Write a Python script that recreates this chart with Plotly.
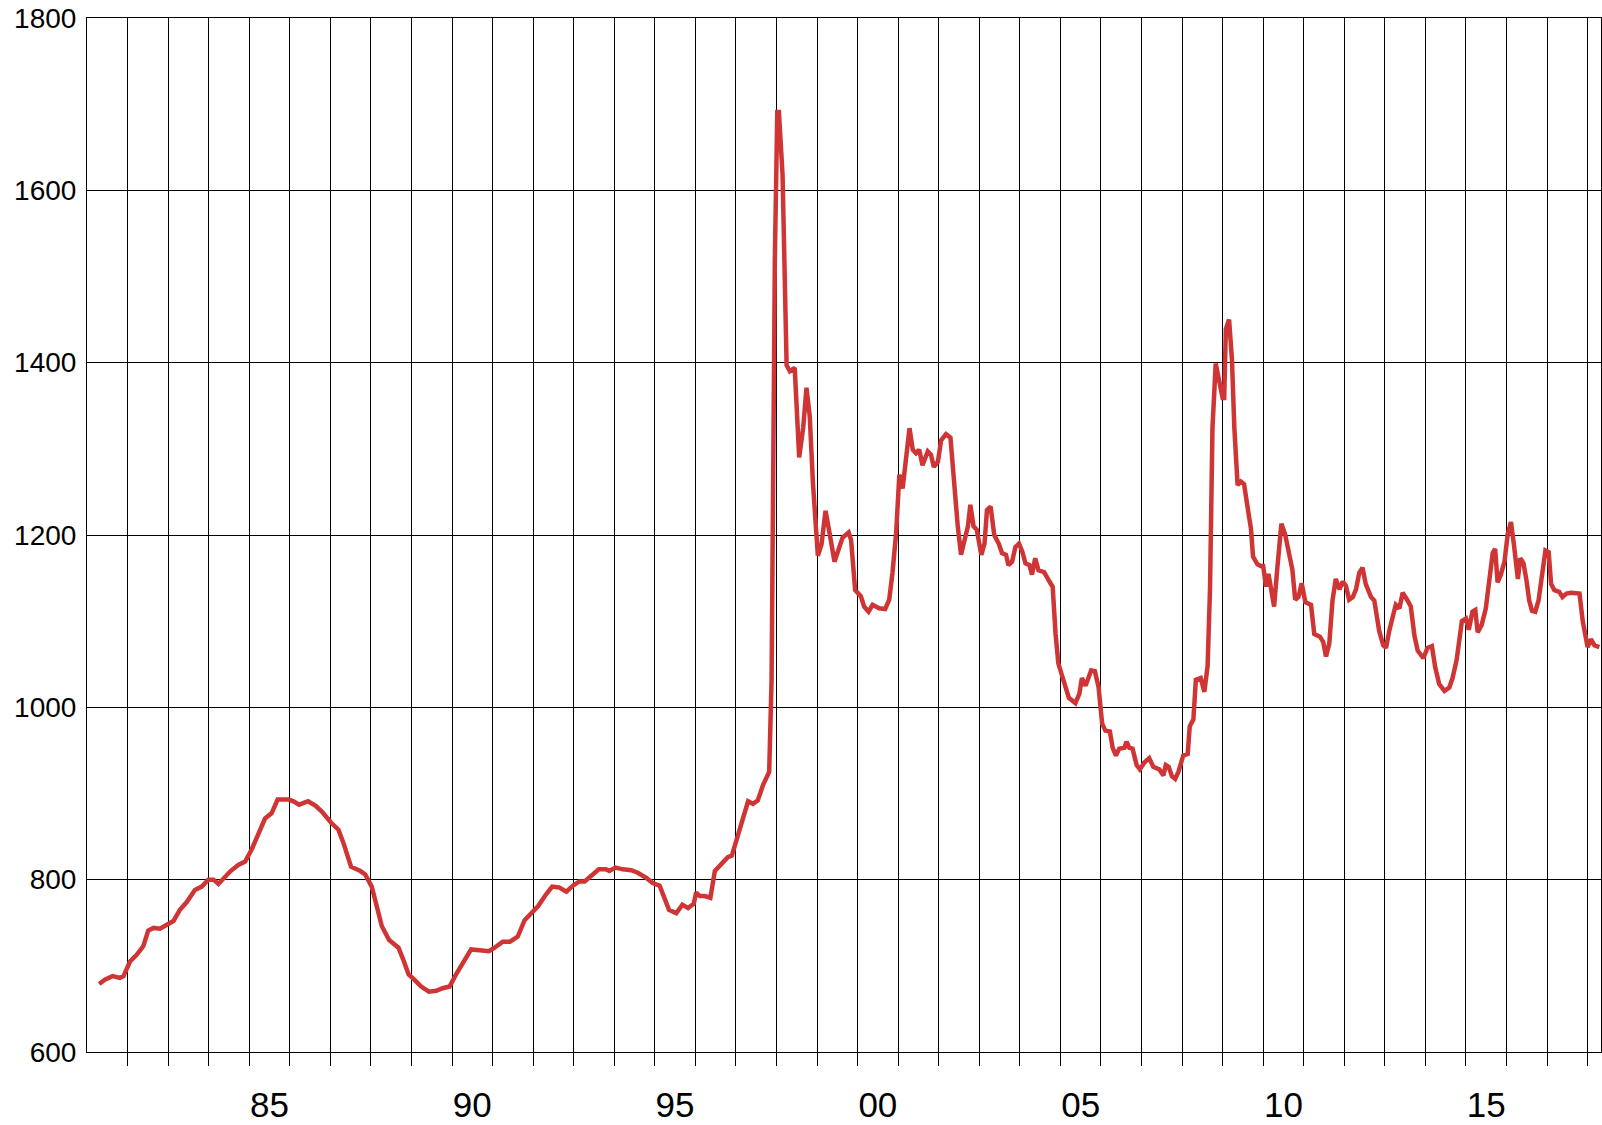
import plotly.graph_objects as go

# decimal year positions of the traced points
dates = [
    1981.30, 1981.44, 1981.63, 1981.81, 1981.90, 1982.06, 1982.23, 1982.39, 1982.51, 1982.64,
    1982.80, 1983.01, 1983.13, 1983.29, 1983.46, 1983.66, 1983.83, 1983.99, 1984.12, 1984.24,
    1984.40, 1984.54, 1984.73, 1984.90, 1985.06, 1985.22, 1985.39, 1985.55, 1985.70, 1985.97,
    1986.09, 1986.23, 1986.45, 1986.63, 1986.79, 1987.02, 1987.20, 1987.32, 1987.51, 1987.74,
    1987.86, 1988.02, 1988.11, 1988.27, 1988.45, 1988.68, 1988.80, 1988.93,
    1989.07, 1989.24, 1989.43, 1989.61, 1989.77, 1989.94, 1990.10, 1990.31, 1990.47, 1990.68,
    1990.91, 1991.05, 1991.25, 1991.43, 1991.62, 1991.79, 1991.95, 1992.12, 1992.32, 1992.47,
    1992.64, 1992.82, 1992.98, 1993.14, 1993.27, 1993.43, 1993.62, 1993.79, 1993.88, 1994.03,
    1994.21, 1994.42, 1994.58, 1994.79, 1994.95, 1995.12, 1995.24, 1995.35, 1995.53, 1995.68,
    1995.82, 1995.96, 1996.02, 1996.11, 1996.23, 1996.37, 1996.48, 1996.64, 1996.80, 1996.90,
    1997.05, 1997.17, 1997.30, 1997.42, 1997.54,
    1997.67, 1997.82, 1997.88, 1997.92, 1997.96, 1998.02, 1998.06, 1998.15, 1998.25, 1998.33,
    1998.45, 1998.56, 1998.66, 1998.74, 1998.82, 1998.90, 1999.02, 1999.11, 1999.21, 1999.31,
    1999.43,
    1999.63, 1999.78, 1999.84, 1999.94, 2000.08, 2000.16, 2000.27, 2000.37, 2000.53, 2000.68,
    2000.78, 2000.86, 2000.95, 2001.03, 2001.11, 2001.19, 2001.28, 2001.36, 2001.44, 2001.52,
    2001.60, 2001.73, 2001.81, 2001.88, 2001.98, 2002.06, 2002.18, 2002.29, 2002.39, 2002.47,
    2002.55, 2002.63, 2002.72, 2002.78, 2002.86, 2002.94, 2003.05, 2003.13, 2003.19, 2003.28,
    2003.37, 2003.48, 2003.56, 2003.66, 2003.72, 2003.81, 2003.89, 2003.98, 2004.06, 2004.14,
    2004.24, 2004.30, 2004.38, 2004.46, 2004.60, 2004.73, 2004.81, 2004.88, 2004.95,
    2005.06, 2005.21, 2005.37, 2005.47, 2005.53, 2005.62, 2005.76, 2005.85, 2005.94, 2006.03,
    2006.11, 2006.22, 2006.29, 2006.37, 2006.45, 2006.58, 2006.63, 2006.70, 2006.78, 2006.88,
    2006.96, 2007.07, 2007.19, 2007.29, 2007.44, 2007.54, 2007.60, 2007.67, 2007.75, 2007.83,
    2007.91, 2008.03, 2008.14, 2008.19, 2008.28, 2008.34, 2008.46, 2008.55, 2008.63, 2008.69,
    2008.75, 2008.83, 2008.92, 2009.00, 2009.04, 2009.08, 2009.16, 2009.23, 2009.29, 2009.37,
    2009.45, 2009.53, 2009.61, 2009.70, 2009.75, 2009.86, 2009.94,
    2010.00, 2010.07, 2010.13, 2010.19, 2010.27, 2010.35, 2010.45, 2010.54, 2010.64, 2010.72,
    2010.79, 2010.87, 2010.95, 2011.04, 2011.18, 2011.26, 2011.40, 2011.48, 2011.55, 2011.63,
    2011.71, 2011.79, 2011.88, 2011.96, 2012.04, 2012.12, 2012.21, 2012.29, 2012.37, 2012.45,
    2012.53, 2012.66, 2012.74, 2012.86, 2012.96, 2013.03, 2013.11, 2013.27, 2013.36, 2013.44,
    2013.56, 2013.64, 2013.73, 2013.81, 2013.95, 2014.05, 2014.16, 2014.24, 2014.34, 2014.47,
    2014.59, 2014.67, 2014.77, 2014.84, 2014.90, 2015.00, 2015.07, 2015.16, 2015.23, 2015.29,
    2015.39, 2015.49, 2015.59, 2015.66, 2015.72, 2015.78, 2015.86, 2015.95, 2016.03, 2016.11,
    2016.19, 2016.28, 2016.34, 2016.42, 2016.50, 2016.56, 2016.63, 2016.71, 2016.79, 2016.88,
    2016.96, 2017.04, 2017.10, 2017.18, 2017.30, 2017.38, 2017.48, 2017.59, 2017.69, 2017.80,
    2017.88, 2018.00, 2018.08, 2018.17, 2018.29,
]

values = [
    679, 684, 688, 686, 688, 705, 713, 723, 741, 744,
    743, 748, 752, 765, 774, 788, 792, 800, 800, 795,
    803, 810, 817, 821, 835, 852, 871, 877, 893, 893,
    891, 887, 891, 886, 879, 866, 858, 843, 815, 810,
    806, 792, 777, 746, 730, 721, 707, 690,
    684, 676, 670, 671, 674, 676, 690, 708, 719, 718,
    717, 721, 728, 728, 734, 753, 761, 769, 783, 792,
    791, 786, 793, 798, 798, 804, 812, 812, 810, 814,
    812, 811, 808, 802, 796, 793, 777, 765, 761, 771,
    767, 772, 785, 781, 781, 779, 810, 819, 826, 828,
    852, 873, 891, 888, 892,
    910, 925, 1033, 1260, 1521, 1691, 1691, 1618, 1397, 1390,
    1394, 1290, 1325, 1371, 1338, 1260, 1176, 1189, 1228, 1202,
    1169,
    1197, 1203, 1194, 1136, 1129, 1117, 1111, 1119, 1115, 1114,
    1125, 1156, 1202, 1270, 1254, 1287, 1324, 1299, 1295, 1299,
    1281, 1297, 1293, 1279, 1285, 1310, 1317, 1313, 1252, 1210,
    1177, 1194, 1210, 1235, 1210, 1206, 1177, 1190, 1229, 1233,
    1200, 1190, 1179, 1177, 1165, 1169, 1186, 1190, 1181, 1167,
    1165, 1154, 1173, 1159, 1157, 1146, 1140, 1086, 1051,
    1034, 1011, 1005, 1016, 1034, 1025, 1043, 1042, 1024, 981,
    973, 972, 953, 944, 952, 953, 960, 953, 952, 933,
    928, 936, 941, 931, 928, 921, 933, 931, 920, 917,
    925, 944, 946, 978, 986, 1032, 1034, 1018, 1048, 1138,
    1324, 1399, 1378, 1359, 1359, 1439, 1450, 1404, 1324, 1258,
    1262, 1259, 1234, 1207, 1175, 1166, 1164,
    1164, 1140, 1155, 1139, 1117, 1162, 1213, 1201, 1177, 1160,
    1125, 1128, 1144, 1122, 1119, 1085, 1082, 1076, 1059, 1074,
    1124, 1149, 1137, 1146, 1141, 1125, 1128, 1137, 1156, 1162,
    1143, 1128, 1124, 1089, 1072, 1069, 1089, 1119, 1115, 1133,
    1124, 1117, 1083, 1066, 1057, 1069, 1071, 1047, 1027, 1019,
    1023, 1034, 1055, 1081, 1100, 1103, 1090, 1111, 1113, 1087,
    1096, 1115, 1149, 1179, 1184, 1145, 1154, 1169, 1201, 1215,
    1186, 1149, 1173, 1167, 1145, 1124, 1112, 1111, 1124, 1160,
    1182, 1180, 1143, 1136, 1134, 1128, 1132, 1133, 1132, 1132,
    1100, 1070, 1079, 1072, 1070,
]

label_years = [1985, 1990, 1995, 2000, 2005, 2010, 2015]
label_text = ["85", "90", "95", "00", "05", "10", "15"]
year_lines = list(range(1982, 2019))
y_ticks = [600, 800, 1000, 1200, 1400, 1600, 1800]

fig = go.Figure()
fig.add_trace(go.Scatter(
    x=dates, y=values, mode="lines",
    line=dict(color="#CF3535", width=4.5),
    hoverinfo="skip", showlegend=False,
))

fig.update_layout(
    width=1602, height=1125,
    margin=dict(l=87, r=1, t=18, b=73, autoexpand=False),
    paper_bgcolor="white", plot_bgcolor="white",
    font=dict(family="Liberation Sans, Arial, sans-serif", color="black"),
    xaxis=dict(
        range=[1981, 2018.33],
        automargin=False,
        tickmode="array",
        tickvals=[y + 0.5 for y in label_years],
        ticktext=label_text,
        ticks="", showgrid=False, zeroline=False,
        tickfont=dict(size=35),
        ticklabelstandoff=22,
        showline=True, linecolor="black", linewidth=1, mirror=True,
        minor=dict(
            tickmode="array", tickvals=year_lines,
            ticks="outside", ticklen=13, tickcolor="black", tickwidth=1,
            showgrid=True, gridcolor="black", gridwidth=1,
        ),
    ),
    yaxis=dict(
        range=[600, 1800],
        automargin=False,
        tickmode="array", tickvals=y_ticks,
        ticks="", showgrid=True, gridcolor="black", gridwidth=1,
        zeroline=False,
        tickfont=dict(size=28),
        ticklabelstandoff=4,
        showline=True, linecolor="black", linewidth=1, mirror=True,
    ),
)

fig.write_html(
    "out.html",
    config={"displayModeBar": False},
    post_script="document.body.style.margin='0';document.body.style.overflow='hidden';",
)
